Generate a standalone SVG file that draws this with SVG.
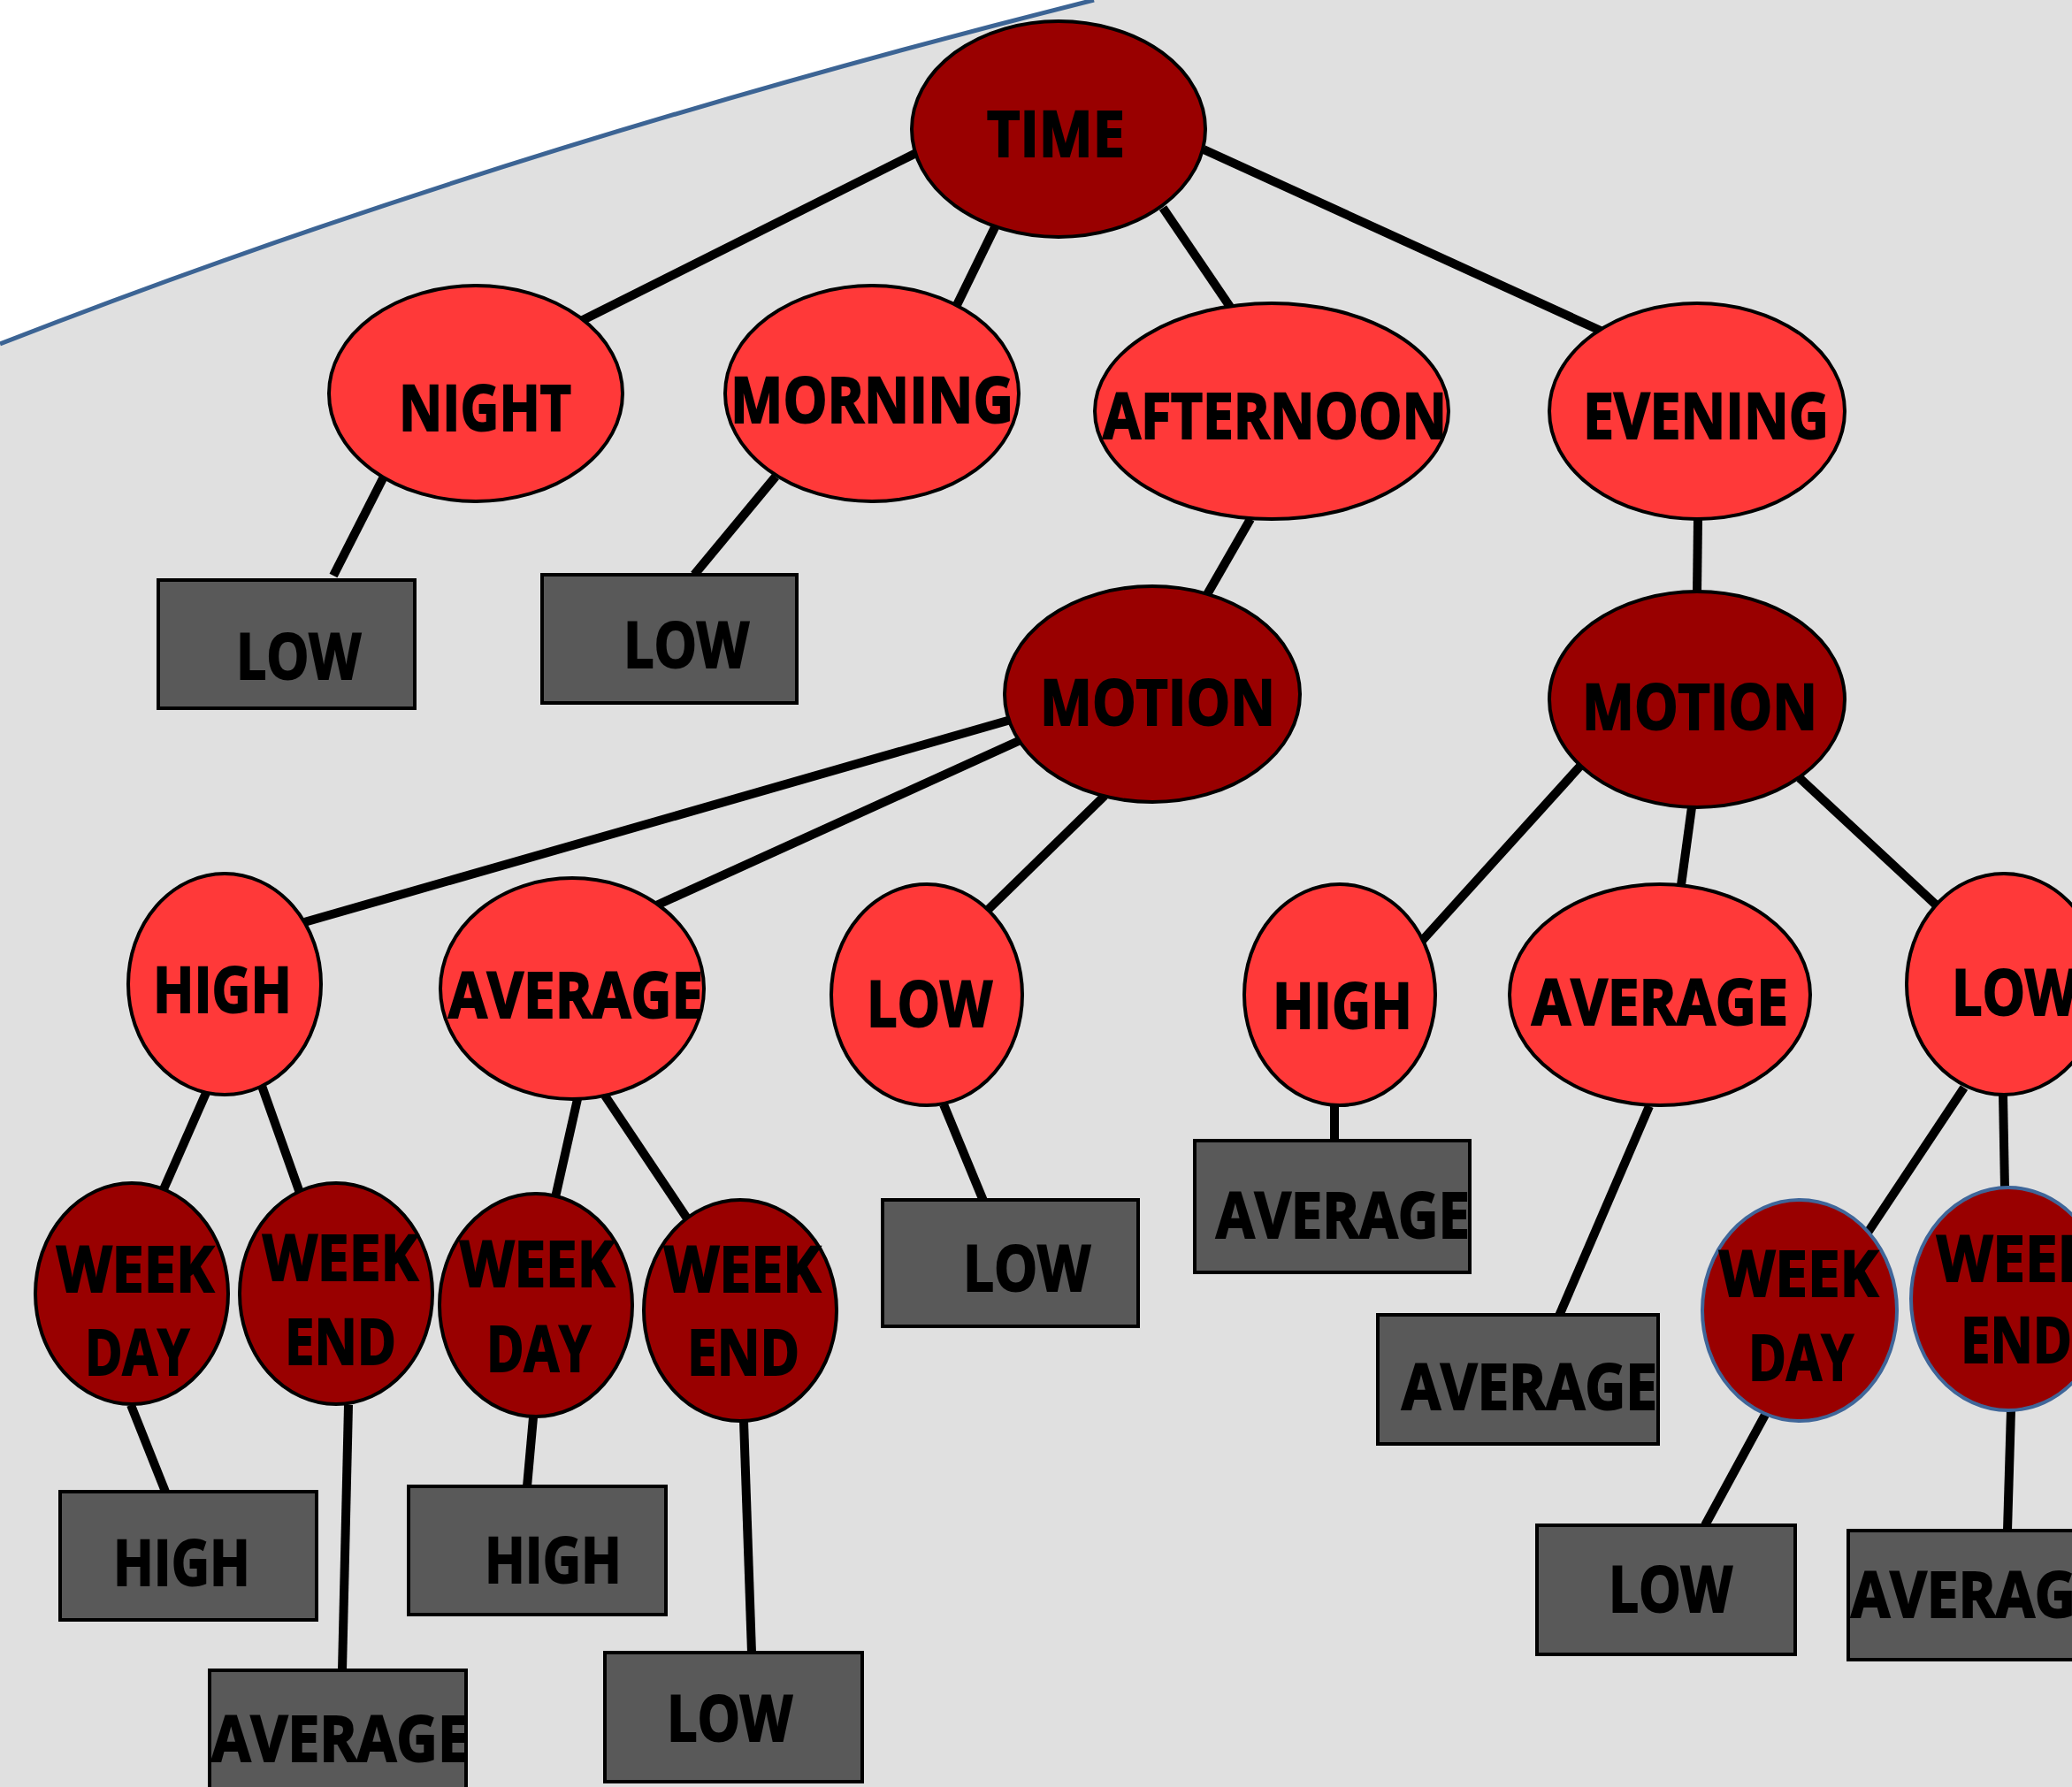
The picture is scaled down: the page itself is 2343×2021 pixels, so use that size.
<svg xmlns="http://www.w3.org/2000/svg" width="2343" height="2021" viewBox="0 0 2343 2021">
<style>
.e1{fill:#990000;stroke:#000;stroke-width:4}
.e2{fill:#FF3939;stroke:#000;stroke-width:4}
.e3{fill:#990000;stroke:#3F6699;stroke-width:4}
.b{fill:#595959;stroke:#000;stroke-width:4}
.c line{stroke:#000;stroke-width:10}
text{font-family:"Open Sans","Liberation Sans",sans-serif;font-weight:700;font-size:71px;fill:#000;stroke:#000;stroke-width:2}
</style>
<rect width="2343" height="2021" fill="#E0E0E0"/>
<path d="M0,0 L1237,0 Q560,170 0,389 Z" fill="#FFFFFF"/>
<path d="M1237,0 Q560,170 0,389" fill="none" stroke="#3C6494" stroke-width="5"/>
<g id="connectors" class="c">
<line x1="1036" y1="173" x2="657" y2="363"/>
<line x1="1125" y1="257" x2="1082" y2="345"/>
<line x1="1315" y1="235" x2="1391" y2="347"/>
<line x1="1361" y1="169" x2="1810" y2="374"/>
<line x1="433" y1="541" x2="377" y2="651"/>
<line x1="877" y1="539" x2="785" y2="650"/>
<line x1="1414" y1="587" x2="1364" y2="674"/>
<line x1="1920" y1="587" x2="1919" y2="671"/>
<line x1="1143" y1="814" x2="344" y2="1043"/>
<line x1="1154" y1="837" x2="740" y2="1025"/>
<line x1="1249" y1="900" x2="1116" y2="1030"/>
<line x1="1789" y1="864" x2="1608" y2="1064"/>
<line x1="1913" y1="913" x2="1901" y2="1001"/>
<line x1="2035" y1="880" x2="2191" y2="1025"/>
<line x1="233" y1="1236" x2="185" y2="1345"/>
<line x1="296" y1="1228" x2="339" y2="1349"/>
<line x1="653" y1="1243" x2="628" y2="1354"/>
<line x1="684" y1="1239" x2="777" y2="1378"/>
<line x1="1067" y1="1249" x2="1112" y2="1358"/>
<line x1="1509" y1="1251" x2="1509" y2="1290"/>
<line x1="1865" y1="1251" x2="1763" y2="1488"/>
<line x1="2221" y1="1230" x2="2112" y2="1394"/>
<line x1="2265" y1="1238" x2="2267" y2="1344"/>
<line x1="148" y1="1589" x2="187" y2="1687"/>
<line x1="394" y1="1589" x2="387" y2="1889"/>
<line x1="603" y1="1603" x2="596" y2="1681"/>
<line x1="841" y1="1607" x2="850" y2="1869"/>
<line x1="1996" y1="1600" x2="1928" y2="1725"/>
<line x1="2274" y1="1595" x2="2270" y2="1731"/>
</g>
<g id="time"><ellipse class="e1" cx="1197" cy="146" rx="166" ry="122"/><text x="1116" y="177" textLength="156" lengthAdjust="spacingAndGlyphs">TIME</text></g>
<g id="night"><ellipse class="e2" cx="538" cy="445" rx="166" ry="122"/><text x="451" y="487" textLength="195" lengthAdjust="spacingAndGlyphs">NIGHT</text></g>
<g id="morning"><ellipse class="e2" cx="986" cy="445" rx="166" ry="122"/><text x="826" y="478" textLength="320" lengthAdjust="spacingAndGlyphs">MORNING</text></g>
<g id="afternoon"><ellipse class="e2" cx="1438" cy="465" rx="200" ry="122"/><text x="1247" y="496" textLength="389" lengthAdjust="spacingAndGlyphs">AFTERNOON</text></g>
<g id="evening"><ellipse class="e2" cx="1919" cy="465" rx="167" ry="122"/><text x="1790" y="496" textLength="278" lengthAdjust="spacingAndGlyphs">EVENING</text></g>
<g id="motion-afternoon"><ellipse class="e1" cx="1303" cy="785" rx="167" ry="122"/><text x="1176" y="820" textLength="266" lengthAdjust="spacingAndGlyphs">MOTION</text></g>
<g id="motion-evening"><ellipse class="e1" cx="1919" cy="791" rx="167" ry="122"/><text x="1789" y="825" textLength="266" lengthAdjust="spacingAndGlyphs">MOTION</text></g>
<g id="high-l"><ellipse class="e2" cx="254" cy="1113" rx="109" ry="125"/><text x="173" y="1145" textLength="157" lengthAdjust="spacingAndGlyphs">HIGH</text></g>
<g id="average-l"><ellipse class="e2" cx="647" cy="1118" rx="149" ry="125"/><text x="507" y="1151" textLength="288" lengthAdjust="spacingAndGlyphs">AVERAGE</text></g>
<g id="low-l"><ellipse class="e2" cx="1048" cy="1125" rx="108" ry="125"/><text x="980" y="1161" textLength="142" lengthAdjust="spacingAndGlyphs">LOW</text></g>
<g id="high-r"><ellipse class="e2" cx="1515" cy="1125" rx="108" ry="125"/><text x="1439" y="1163" textLength="158" lengthAdjust="spacingAndGlyphs">HIGH</text></g>
<g id="average-r"><ellipse class="e2" cx="1877" cy="1125" rx="170" ry="125"/><text x="1732" y="1159" textLength="290" lengthAdjust="spacingAndGlyphs">AVERAGE</text></g>
<g id="low-r"><ellipse class="e2" cx="2266" cy="1113" rx="110" ry="125"/><text x="2207" y="1148" textLength="142" lengthAdjust="spacingAndGlyphs">LOW</text></g>
<g id="weekday-1"><ellipse class="e1" cx="149" cy="1463" rx="109" ry="125"/><text x="64" y="1461" textLength="178" lengthAdjust="spacingAndGlyphs">WEEK</text><text x="96" y="1555" textLength="118" lengthAdjust="spacingAndGlyphs">DAY</text></g>
<g id="weekend-1"><ellipse class="e1" cx="380" cy="1463" rx="109" ry="125"/><text x="297" y="1448" textLength="176" lengthAdjust="spacingAndGlyphs">WEEK</text><text x="322" y="1543" textLength="126" lengthAdjust="spacingAndGlyphs">END</text></g>
<g id="weekday-2"><ellipse class="e1" cx="606" cy="1476" rx="109" ry="126"/><text x="520" y="1455" textLength="175" lengthAdjust="spacingAndGlyphs">WEEK</text><text x="550" y="1551" textLength="118" lengthAdjust="spacingAndGlyphs">DAY</text></g>
<g id="weekend-2"><ellipse class="e1" cx="837" cy="1482" rx="109" ry="125"/><text x="751" y="1461" textLength="177" lengthAdjust="spacingAndGlyphs">WEEK</text><text x="777" y="1555" textLength="127" lengthAdjust="spacingAndGlyphs">END</text></g>
<g id="weekday-r"><ellipse class="e3" cx="2035" cy="1482" rx="110" ry="125"/><text x="1944" y="1466" textLength="180" lengthAdjust="spacingAndGlyphs">WEEK</text><text x="1977" y="1561" textLength="119" lengthAdjust="spacingAndGlyphs">DAY</text></g>
<g id="weekend-r"><ellipse class="e3" cx="2271" cy="1469" rx="110" ry="126"/><text x="2190" y="1449" textLength="180" lengthAdjust="spacingAndGlyphs">WEEK</text><text x="2217" y="1541" textLength="126" lengthAdjust="spacingAndGlyphs">END</text></g>
<g id="box-low-night"><rect class="b" x="179" y="656" width="290" height="145"/><text x="267" y="768" textLength="141" lengthAdjust="spacingAndGlyphs">LOW</text></g>
<g id="box-low-morning"><rect class="b" x="613" y="650" width="288" height="145"/><text x="705" y="755" textLength="142" lengthAdjust="spacingAndGlyphs">LOW</text></g>
<g id="box-high-1"><rect class="b" x="68" y="1687" width="290" height="145"/><text x="128" y="1793" textLength="155" lengthAdjust="spacingAndGlyphs">HIGH</text></g>
<g id="box-average-1"><rect class="b" x="237" y="1889" width="290" height="145"/><text x="239" y="1992" textLength="292" lengthAdjust="spacingAndGlyphs">AVERAGE</text></g>
<g id="box-high-2"><rect class="b" x="462" y="1681" width="291" height="145"/><text x="548" y="1790" textLength="155" lengthAdjust="spacingAndGlyphs">HIGH</text></g>
<g id="box-low-2"><rect class="b" x="684" y="1869" width="291" height="146"/><text x="754" y="1969" textLength="142" lengthAdjust="spacingAndGlyphs">LOW</text></g>
<g id="box-low-3"><rect class="b" x="998" y="1357" width="289" height="143"/><text x="1089" y="1460" textLength="144" lengthAdjust="spacingAndGlyphs">LOW</text></g>
<g id="box-average-2"><rect class="b" x="1351" y="1290" width="311" height="149"/><text x="1375" y="1400" textLength="287" lengthAdjust="spacingAndGlyphs">AVERAGE</text></g>
<g id="box-average-3"><rect class="b" x="1558" y="1487" width="317" height="146"/><text x="1585" y="1594" textLength="289" lengthAdjust="spacingAndGlyphs">AVERAGE</text></g>
<g id="box-low-4"><rect class="b" x="1738" y="1725" width="292" height="146"/><text x="1819" y="1823" textLength="140" lengthAdjust="spacingAndGlyphs">LOW</text></g>
<g id="box-average-4"><rect class="b" x="2090" y="1731" width="300" height="146"/><text x="2093" y="1829" textLength="290" lengthAdjust="spacingAndGlyphs">AVERAGE</text></g>
</svg>
